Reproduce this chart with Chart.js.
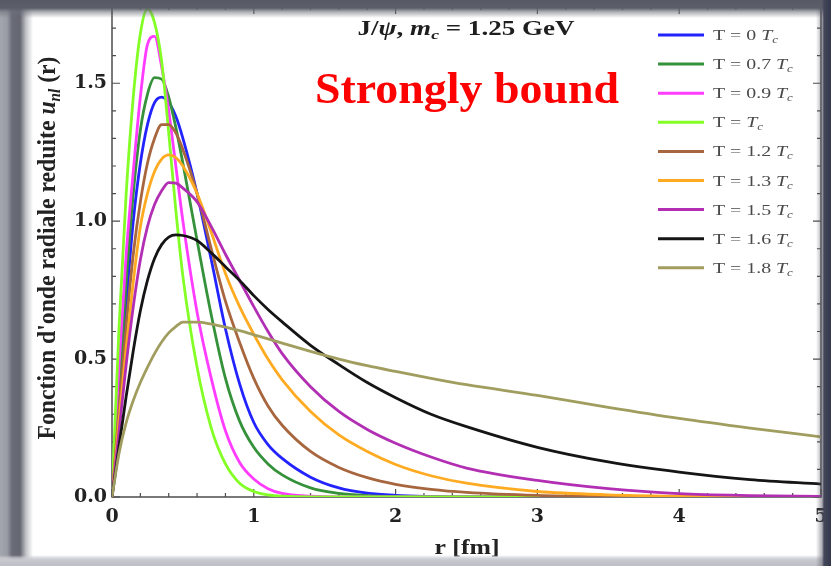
<!DOCTYPE html>
<html>
<head>
<meta charset="utf-8">
<script src="https://cdn.jsdelivr.net/npm/chart.js@4.4.1/dist/chart.umd.min.js"></script>
<style>
  html, body { margin: 0; padding: 0; background: #fff; }
  #wrap { position: relative; width: 831px; height: 566px; overflow: hidden; background: #fff; }
  #wrap canvas { position: absolute; left: 0; top: 0; filter: blur(0.5px); }
  .edge { position: absolute; pointer-events: none; }
  #eTop { left: 0; top: 0; width: 831px; height: 18px;
    background: linear-gradient(to bottom, #575a65 0px, #5c5f6a 8px, rgba(110,112,122,0.55) 12px, rgba(255,255,255,0) 18px); }
  #eLeft { left: 0; top: 0; width: 34px; height: 566px;
    background: linear-gradient(to right, #a4a6ae 0px, #9a9ca5 7px, #6a6c78 12px, #646672 20px, rgba(120,122,132,0.45) 26px, rgba(255,255,255,0) 33px); }
  #eRight { left: 816px; top: 0; width: 15px; height: 566px;
    background: linear-gradient(to right, rgba(255,255,255,0) 0px, rgba(90,92,104,0.5) 6px, #44465a 8px, #34364a 15px); }
  #eBottom { left: 0; top: 555px; width: 831px; height: 11px;
    background: linear-gradient(to bottom, rgba(255,255,255,0) 0px, rgba(205,206,212,0.8) 3px, #c8c9cf 5px, #bdbec6 11px); }
</style>
</head>
<body>
<div id="wrap">
  <canvas id="chart" width="831" height="566"></canvas>
  <div class="edge" id="eLeft"></div>
  <div class="edge" id="eBottom"></div>
  <div class="edge" id="eTop"></div>
  <div class="edge" id="eRight"></div>
</div>
<script>
// r in fm
const radius = [0, 0.05, 0.1, 0.15, 0.2, 0.25, 0.3, 0.35, 0.4, 0.45, 0.5, 0.6, 0.7, 0.8, 0.9, 1.0,
                1.1, 1.2, 1.4, 1.6, 1.8, 2.0, 2.25, 2.5, 3.0, 3.5, 4.0, 4.5, 5.0];

// u_nl(r), one array per temperature
const uT00 = [0, 0.36, 0.70, 1.00, 1.21, 1.35, 1.43, 1.45, 1.43, 1.38, 1.30, 1.10, 0.86, 0.61, 0.41, 0.27,
              0.19, 0.14, 0.072, 0.033, 0.014, 0.006, 0.002, 0, 0, 0, 0, 0, 0];
const uT07 = [0, 0.40, 0.78, 1.10, 1.33, 1.46, 1.52, 1.515, 1.45, 1.34, 1.21, 0.93, 0.66, 0.43, 0.275, 0.18,
              0.12, 0.08, 0.033, 0.013, 0.005, 0.002, 0, 0, 0, 0, 0, 0, 0];
const uT09 = [0, 0.48, 0.88, 1.18, 1.45, 1.64, 1.67, 1.56, 1.40, 1.20, 1.00, 0.67, 0.43, 0.24, 0.125, 0.065,
              0.03, 0.013, 0.003, 0, 0, 0, 0, 0, 0, 0, 0, 0, 0];
const uTc  = [0, 0.62, 1.10, 1.45, 1.68, 1.77, 1.72, 1.58, 1.32, 1.04, 0.80, 0.47, 0.25, 0.12, 0.05, 0.02,
              0.008, 0.003, 0, 0, 0, 0, 0, 0, 0, 0, 0, 0, 0];
const uT12 = [0, 0.32, 0.62, 0.88, 1.07, 1.21, 1.30, 1.35, 1.35, 1.32, 1.26, 1.10, 0.90, 0.71, 0.56, 0.43,
              0.33, 0.26, 0.165, 0.107, 0.07, 0.046, 0.028, 0.017, 0.006, 0.002, 0, 0, 0];
const uT13 = [0, 0.28, 0.54, 0.78, 0.98, 1.10, 1.18, 1.225, 1.24, 1.23, 1.20, 1.10, 0.96, 0.81, 0.69, 0.59,
              0.50, 0.425, 0.31, 0.225, 0.165, 0.118, 0.077, 0.05, 0.02, 0.008, 0.003, 0.001, 0];
const uT15 = [0, 0.24, 0.48, 0.69, 0.86, 0.98, 1.06, 1.11, 1.14, 1.138, 1.12, 1.07, 0.98, 0.88, 0.785, 0.69,
              0.60, 0.52, 0.40, 0.31, 0.245, 0.195, 0.145, 0.105, 0.06, 0.03, 0.012, 0.005, 0.002];
const uT16 = [0, 0.185, 0.365, 0.53, 0.675, 0.785, 0.865, 0.915, 0.942, 0.95, 0.948, 0.93, 0.885, 0.835, 0.785, 0.73,
              0.68, 0.635, 0.55, 0.48, 0.415, 0.36, 0.30, 0.255, 0.18, 0.127, 0.09, 0.063, 0.047];
const uT18 = [0, 0.16, 0.27, 0.35, 0.415, 0.47, 0.52, 0.562, 0.595, 0.618, 0.634, 0.634, 0.627, 0.616, 0.603, 0.588,
              0.573, 0.558, 0.528, 0.50, 0.476, 0.455, 0.43, 0.407, 0.368, 0.325, 0.285, 0.25, 0.218];

const tempLabels = ['0', '0.7', '0.9', '', '1.2', '1.3', '1.5', '1.6', '1.8'];
const seriesValues = [uT00, uT07, uT09, uTc, uT12, uT13, uT15, uT16, uT18];
const seriesColors = ['#2323ff', '#35913a', '#ff3cff', '#84ff26', '#a8663f', '#ffab22', '#b22fb4', '#151515', '#a19d5f'];

const xTicks = [0, 1, 2, 3, 4, 5];
const yTicks = [0, 0.5, 1.0, 1.5];

const SERIF = '"Liberation Serif", "Times New Roman", serif';

// mixed-style text (italics, subscripts) fitted to a given length
function drawRuns(ctx, runs, x, y, opts) {
  let w = 0;
  runs.forEach(r => { ctx.font = r.font; r.w = ctx.measureText(r.text).width; w += r.w; });
  const sx = opts.width ? opts.width / w : (opts.sx || 1);
  ctx.save();
  ctx.translate(x, y);
  if (opts.rotate) ctx.rotate(opts.rotate);
  ctx.scale(sx, 1);
  ctx.textAlign = 'left';
  ctx.textBaseline = 'alphabetic';
  ctx.fillStyle = opts.color || '#222';
  let cx = opts.align === 'left' ? 0 : -w / 2;
  runs.forEach(r => {
    ctx.font = r.font;
    ctx.fillText(r.text, cx, r.dy || 0);
    cx += r.w;
  });
  ctx.restore();
}

const framePlugin = {
  id: 'frame',
  beforeDatasetsDraw(chart) {
    const { ctx, chartArea: a, scales: { x, y } } = chart;
    ctx.save();
    ctx.strokeStyle = '#4d4d4d';
    ctx.lineWidth = 1.5;
    ctx.strokeRect(a.left, a.top, a.right - a.left, a.bottom - a.top);
    ctx.lineWidth = 1.2;
    ctx.beginPath();
    // minor ticks every 0.2 on x, every 0.1 on y, pointing inwards
    for (let i = 0; i <= 25; i++) {
      const px = x.getPixelForValue(i * 0.2);
      const len = i % 5 === 0 ? 8 : 4;
      ctx.moveTo(px, a.bottom); ctx.lineTo(px, a.bottom - len);
      ctx.moveTo(px, a.top); ctx.lineTo(px, a.top + len);
    }
    for (let i = 0; i <= 17; i++) {
      const py = y.getPixelForValue(i * 0.1);
      const len = i % 5 === 0 ? 8 : 4;
      ctx.moveTo(a.left, py); ctx.lineTo(a.left + len, py);
      ctx.moveTo(a.right, py); ctx.lineTo(a.right - len, py);
    }
    ctx.stroke();
    ctx.restore();
  },
  afterDraw(chart) {
    const ctx = chart.ctx;
    // plot label
    drawRuns(ctx, [
      { text: 'J/', font: 'bold 20px ' + SERIF },
      { text: 'ψ', font: 'bold italic 20px ' + SERIF },
      { text: ', ', font: 'bold 20px ' + SERIF },
      { text: 'm', font: 'bold italic 20px ' + SERIF },
      { text: 'c', font: 'bold italic 13px ' + SERIF, dy: 4 },
      { text: ' = 1.25 GeV', font: 'bold 20px ' + SERIF }
    ], 466, 35, { width: 217, color: '#1e1e1e' });

    drawRuns(ctx, [{ text: 'Strongly bound', font: 'bold 45px ' + SERIF }],
      467, 103, { width: 304, color: '#ff0000' });

    // axis titles
    drawRuns(ctx, [
      { text: "Fonction d'onde radiale reduite ", font: 'bold 25px ' + SERIF },
      { text: 'u', font: 'bold italic 25px ' + SERIF },
      { text: 'nl', font: 'bold italic 16px ' + SERIF, dy: 5 },
      { text: ' (r)', font: 'bold 25px ' + SERIF }
    ], 55, 248, { width: 383, rotate: -Math.PI / 2, color: '#222' });

    drawRuns(ctx, [{ text: 'r [fm]', font: 'bold 21px ' + SERIF }],
      467, 554, { width: 65, color: '#222' });

    // legend
    chart.data.datasets.forEach((ds, i) => {
      const ly = 35 + i * 29.1;
      ctx.save();
      ctx.strokeStyle = ds.borderColor;
      ctx.lineWidth = 3;
      ctx.beginPath();
      ctx.moveTo(658, ly); ctx.lineTo(704, ly);
      ctx.stroke();
      ctx.restore();
      const t = tempLabels[i];
      drawRuns(ctx, [
        { text: t ? 'T = ' + t + ' ' : 'T = ', font: '14.5px ' + SERIF },
        { text: 'T', font: 'italic 14.5px ' + SERIF },
        { text: 'c', font: 'italic 9.5px ' + SERIF, dy: 3 }
      ], 713, ly + 5, { align: 'left', sx: 1.37, color: '#4a4a4a' });
    });
  }
};

const datasets = seriesValues.map((vals, i) => ({
  label: 'T = ' + (tempLabels[i] ? tempLabels[i] + ' ' : '') + 'Tc',
  data: radius.map((r, k) => ({ x: r, y: vals[k] })),
  borderColor: seriesColors[i],
  borderWidth: 2.8,
  pointRadius: 0,
  cubicInterpolationMode: 'monotone',
  fill: false,
  order: seriesValues.length - i
}));

new Chart(document.getElementById('chart'), {
  type: 'line',
  data: { datasets: datasets },
  options: {
    responsive: false,
    animation: false,
    devicePixelRatio: 1,
    layout: { padding: { top: 6, right: 10, left: 0, bottom: 0 } },
    plugins: { legend: { display: false }, tooltip: { enabled: false } },
    scales: {
      x: {
        type: 'linear', min: 0, max: 5,
        afterBuildTicks: s => { s.ticks = xTicks.map(v => ({ value: v })); },
        ticks: { padding: 9, color: '#222', font: { family: 'DejaVu Serif', weight: 'bold', size: 19 },
                 callback: v => String(v) },
        grid: { display: false, drawTicks: false },
        border: { display: false },
        afterFit: s => { s.height = 69; s.paddingLeft = 0; s.paddingRight = 0; }
      },
      y: {
        type: 'linear', min: 0, max: 1.78,
        afterBuildTicks: s => { s.ticks = yTicks.map(v => ({ value: v })); },
        ticks: { padding: 5, color: '#222', font: { family: 'DejaVu Serif', weight: 'bold', size: 19 },
                 callback: v => v.toFixed(1) },
        grid: { display: false, drawTicks: false },
        border: { display: false },
        afterFit: s => { s.width = 112; s.paddingTop = 0; s.paddingBottom = 0; }
      }
    }
  },
  plugins: [framePlugin]
});
</script>
</body>
</html>
